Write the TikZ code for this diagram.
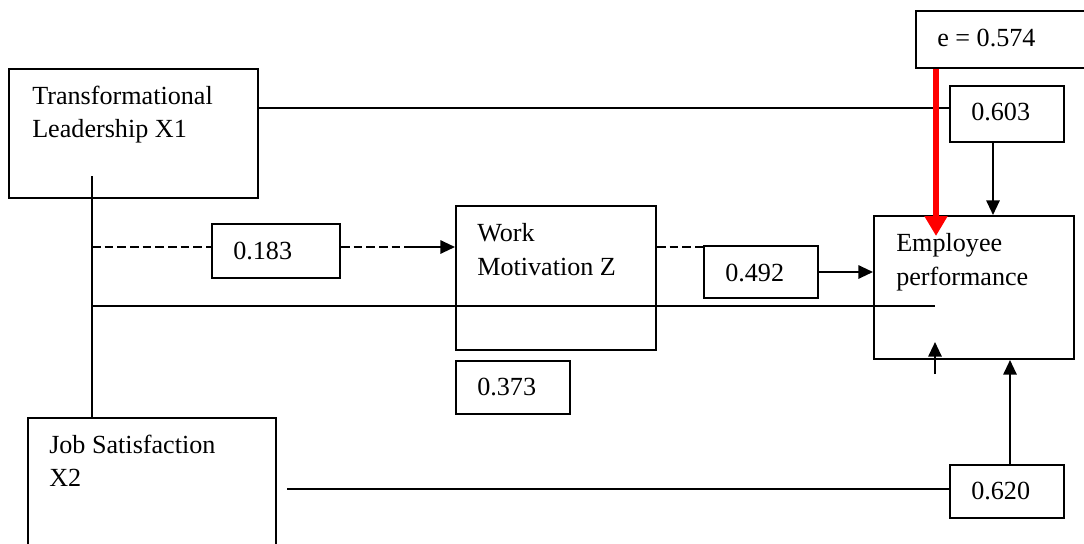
\documentclass[tikz,border=0pt]{standalone}
\usepackage{fontspec}
\setmainfont{Liberation Serif}
\usetikzlibrary{arrows.meta,fit,calc}
\begin{document}
\begin{tikzpicture}[x=0.75pt,y=-0.75pt,
  box/.style={draw,line width=1.5pt,inner sep=0pt,fit={#1}},
  txt/.style={anchor=base west,inner sep=0pt,font=\fontsize{19.6}{24}\selectfont},
  link/.style={line width=1.5pt},
  dashlink/.style={line width=1.5pt,dash pattern=on 6.5pt off 3pt},
  arr/.style={line width=1.5pt,-{Triangle[length=11pt,width=10pt]}},
  redarr/.style={line width=5.2pt,red,-{Triangle[length=15pt,width=16.5pt]}}]
\useasboundingbox (0,0) rectangle (1084,543);
\clip (0,0) rectangle (1084,543);
\fill[white] (0,0) rectangle (1084,543);

% construct boxes
\node[box={(9,69) (258,198)}] (TL) {};
\node[txt] (tl1) at (32,104) {Transformational};
\node[txt] (tl2) at (32,137) {Leadership X1};

\draw[line width=1.5pt] (28,560) -- (28,418) -- (276,418) -- (276,560);
\node[inner sep=0pt,fit={(28,418) (276,560)}] (JS) {};
\node[txt] (js1) at (49,453) {Job Satisfaction};
\node[txt] (js2) at (49,486) {X2};

\node[box={(456,206) (656,350)}] (WM) {};
\node[txt] (wm1) at (477,241) {Work};
\node[txt] (wm2) at (477,275) {Motivation Z};

\node[box={(874,216) (1074,359)}] (EP) {};
\node[txt] (ep1) at (896,251) {Employee};
\node[txt] (ep2) at (896,285) {performance};

% error term
\node[box={(916,11) (1100,68)}] (E) {};
\node[txt] (et) at (937,46) {e = 0.574};

% path coefficients
\node[box={(950,86) (1064,142)}] (v603) {};
\node[txt] at (971,120) {0.603};
\node[box={(212,224) (340,278)}] (v183) {};
\node[txt] at (233,259) {0.183};
\node[box={(704,246) (818,298)}] (v492) {};
\node[txt] at (725,281) {0.492};
\node[box={(456,361) (570,414)}] (v373) {};
\node[txt] at (477,395) {0.373};
\node[box={(950,465) (1064,518)}] (v620) {};
\node[txt] at (971,499) {0.620};

% anchor points for the connectors
\coordinate (row1) at (0,108);
\coordinate (row2) at (0,247);
\coordinate (row3) at (0,306);
\coordinate (row4) at (0,489);
\coordinate (vx) at (92,176);
\coordinate (ax) at (405,247);
\coordinate (ex) at (936,68);
\coordinate (px) at (993,0);
\coordinate (qx) at (1010,0);
\coordinate (sx) at (935,374);
\coordinate (jx) at (287,489);

% connectors
\draw[link] (TL.east |- row1) -- (v603.west |- row1);
\draw[arr] (v603.south -| px) -- (EP.north -| px);
\draw[redarr] (E.south -| ex) -- ($(EP.north -| ex)+(0,21)$);

\draw[link] (vx) -- (vx |- JS.north);
\draw[dashlink] (vx |- row2) -- (v183.west |- row2);
\draw[dashlink] (v183.east |- row2) -- (ax);
\draw[arr] (ax) -- (WM.west |- row2);
\draw[dashlink] (WM.east |- row2) -- (v492.west |- row2);
\draw[arr] (v492.east) -- (v492.east -| EP.west);

\draw[link] (vx |- row3) -- (sx |- row3);
\draw[arr] (sx) -- ($(sx |- EP.south)+(0,-18)$);

\draw[link] (jx) -- (v620.west |- row4);
\draw[arr] (v620.north -| qx) -- (EP.south -| qx);
\end{tikzpicture}
\end{document}
